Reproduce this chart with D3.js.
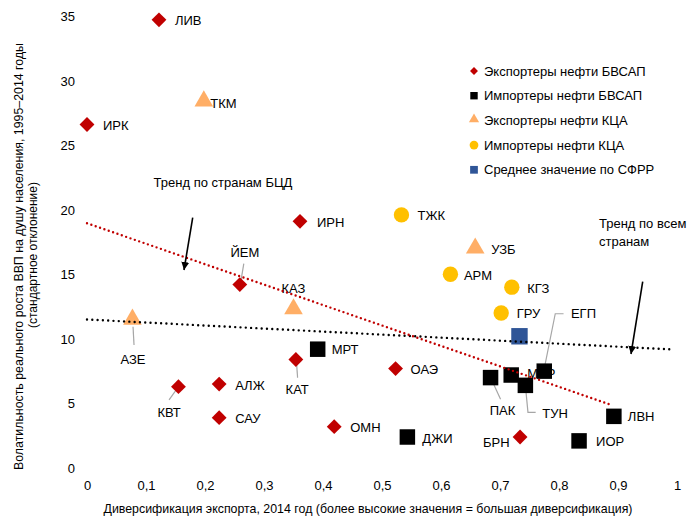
<!DOCTYPE html>
<html><head><meta charset="utf-8">
<script src="https://cdn.jsdelivr.net/npm/d3@7"></script>
<style>
body{margin:0;background:#fff}
text{font-family:"Liberation Sans Narrow","Arial Narrow","Liberation Sans",Arial,sans-serif;fill:#000}
</style>
</head><body><svg id="c" width="697" height="523"></svg>
<script>
// ---------- DATA ----------
const seriesNames = ["Экспортеры нефти БВСАП","Импортеры нефти БВСАП","Экспортеры нефти КЦА","Импортеры нефти КЦА","Среднее значение по СФРР"];
const menapExporters = [
  {name:"ЛИВ",x:0.122,y:34.7},{name:"ИРК",x:0.0,y:26.6},{name:"ИРН",x:0.361,y:19.1},
  {name:"ЙЕМ",x:0.259,y:14.2},{name:"КАТ",x:0.354,y:8.4},{name:"КВТ",x:0.155,y:6.3},
  {name:"АЛЖ",x:0.224,y:6.5},{name:"САУ",x:0.224,y:3.9},{name:"ОМН",x:0.419,y:3.2},
  {name:"ОАЭ",x:0.523,y:7.7},{name:"БРН",x:0.734,y:2.4}
];
const menapImporters = [
  {name:"МРТ",x:0.391,y:9.2},{name:"ДЖИ",x:0.543,y:2.4},{name:"ПАК",x:0.684,y:7.0},
  {name:"МАР",x:0.719,y:7.2},{name:"ТУН",x:0.743,y:6.4},{name:"ЕГП",x:0.775,y:7.5},
  {name:"ЛВН",x:0.893,y:4.0},{name:"ИОР",x:0.834,y:2.1}
];
const ccaExporters = [
  {name:"ТКМ",x:0.198,y:28.3},{name:"КАЗ",x:0.350,y:12.2},{name:"АЗЕ",x:0.077,y:11.4},{name:"УЗБ",x:0.658,y:16.9}
];
const ccaImporters = [
  {name:"ТЖК",x:0.533,y:19.6},{name:"АРМ",x:0.616,y:15.0},{name:"КГЗ",x:0.720,y:14.0},{name:"ГРУ",x:0.702,y:12.0}
];
const emAverage = [{name:"",x:0.733,y:10.2}];
const trendOil = {x:[0,0.889], y:[18.95,4.88]};      // trend for oil countries (БЦД)
const trendAll = {x:[0,0.987], y:[11.5,9.19]};       // trend for all countries
const xTicks = [0,0.1,0.2,0.3,0.4,0.5,0.6,0.7,0.8,0.9,1];
const yTicks = [0,5,10,15,20,25,30,35];
const xTitle = "Диверсификация экспорта, 2014 год (более высокие значения = большая диверсификация)";
const yTitle1 = "Волатильность реального роста ВВП на душу  населения, 1995–2014 годы";
const yTitle2 = "(стандартное отклонение)";
const noteOil = "Тренд по странам БЦД";
const noteAll = ["Тренд по всем","странам"];

// ---------- LAYOUT / STYLE ----------
const colors = ["#C00000","#000000","#FFAE66","#FFC000","#2F5597"];
const shapes = [d3.symbolDiamond2 || d3.symbolDiamond, d3.symbolSquare, d3.symbolTriangle, d3.symbolCircle, d3.symbolSquare];
const labelLayout = {
  "ЛИВ":{dx:16,dy:1},"ИРК":{dx:16,dy:1},"ИРН":{dx:17,dy:1},"АЛЖ":{dx:16,dy:1},"САУ":{dx:16,dy:1},
  "ОМН":{dx:16,dy:1},"ОАЭ":{dx:15,dy:1},"МРТ":{dx:14,dy:0},"ДЖИ":{dx:15,dy:1},"ЛВН":{dx:14,dy:0.5},
  "ИОР":{dx:17,dy:1},"ТКМ":{dx:6.5,dy:0.5},"УЗБ":{dx:16,dy:0},"ТЖК":{dx:16,dy:0.7},"АРМ":{dx:13.5,dy:1.5},
  "КГЗ":{dx:15.5,dy:1.3},"ГРУ":{dx:15.5,dy:0.7},"МАР":{dx:16,dy:-1.7},
  "БРН":{dx:-10.5,dy:5.3,anchor:"end"},
  "КАЗ":{dx:0,dy:-21.7,anchor:"middle"},
  "ЙЕМ":{dx:5,dy:-31.7,anchor:"middle",leader:[[4,-21],[1,-3]]},
  "АЗЕ":{dx:0.6,dy:38.6,anchor:"middle",leader:[[0.6,6],[1.6,24.3]]},
  "КАТ":{dx:1.3,dy:30,anchor:"middle",leader:[[0.7,2.7],[1.7,18.3]]},
  "КВТ":{dx:-9.4,dy:26,anchor:"middle",leader:[[-0.4,0.6],[-9.4,13.3]]},
  "ПАК":{dx:12,dy:33,anchor:"middle",leader:[[0,0],[10,21.6]]},
  "ТУН":{dx:17,dy:28.3,leader:[[0,0],[2.6,27],[10.3,27]]},
  "ЕГП":{dx:26.7,dy:-57.4,leader:[[-0.7,1],[11,-57.4],[19.3,-57.4]]}
};

const svg = d3.select("#c");
const x = d3.scaleLinear().domain([0,1]).range([87,677]);
const y = d3.scaleLinear().domain([0,35]).range([468,16]);
const fs = 13;

// axes (labels only, no lines)
const yAxis = svg.append("g").attr("transform","translate(75,0)")
  .call(d3.axisLeft(y).tickValues(yTicks).tickSize(0).tickPadding(0).tickFormat(d3.format("d")));
yAxis.select(".domain").remove();
yAxis.selectAll("text").style("font-size",fs+"px").attr("font-family",null).attr("dy","0.35em");
const fmtX = d => d===0||d===1 ? String(d) : d3.format(".1f")(d).replace(".",",");
const xAxis = svg.append("g").attr("transform","translate(0,481)")
  .call(d3.axisBottom(x).tickValues(xTicks).tickSize(0).tickPadding(0).tickFormat(fmtX));
xAxis.select(".domain").remove();
xAxis.selectAll("text").style("font-size",fs+"px").attr("font-family",null);

svg.append("text").attr("x",368).attr("y",513).attr("text-anchor","middle").style("font-size",fs+"px")
  .attr("textLength",529).attr("lengthAdjust","spacingAndGlyphs").text(xTitle);
svg.append("text").attr("transform","translate(23,256.5) rotate(-90)").attr("text-anchor","middle").style("font-size",fs+"px")
  .attr("textLength",427).attr("lengthAdjust","spacingAndGlyphs").text(yTitle1);
svg.append("text").attr("transform","translate(36.5,255) rotate(-90)").attr("text-anchor","middle").style("font-size",fs+"px")
  .attr("textLength",146).attr("lengthAdjust","spacingAndGlyphs").text(yTitle2);

const allSeries = [menapExporters, menapImporters, ccaExporters, ccaImporters, emAverage];
const sizes = [140, 240, 150, 185, 270];

// leaders + labels
const lab = svg.append("g");
allSeries.forEach(s => s.forEach(d => {
  if(!d.name) return;
  const L = labelLayout[d.name] || {dx:16,dy:1};
  const px = x(d.x), py = y(d.y);
  if(L.leader){
    lab.append("polyline").attr("points", L.leader.map(p=>[px+p[0],py+p[1]].join(",")).join(" "))
      .attr("fill","none").attr("stroke","#A6A6A6").attr("stroke-width",1.2);
  }
  lab.append("text").attr("x",px+L.dx).attr("y",py+L.dy).attr("dy","0.35em")
    .attr("text-anchor",L.anchor||"start").style("font-size",fs+"px").text(d.name);
}));

// markers
const mk = svg.append("g");
allSeries.forEach((s,i) => {
  mk.selectAll(null).data(s).enter().append("path")
    .attr("d", d3.symbol().type(shapes[i]).size(sizes[i]))
    .attr("transform", d => `translate(${x(d.x)},${y(d.y) - (i===2 ? 1.5 : 0)})`)
    .attr("fill", colors[i]);
});

// trend lines
const line = d3.line().x(d=>x(d[0])).y(d=>y(d[1]));
svg.append("path").attr("d", line(d3.zip(trendAll.x, trendAll.y)))
  .attr("stroke","#000").attr("stroke-width",2.4).attr("stroke-linecap","round")
  .attr("stroke-dasharray","0 5.3").attr("fill","none");
svg.append("path").attr("d", line(d3.zip(trendOil.x, trendOil.y)))
  .attr("stroke","#C00000").attr("stroke-width",2.4).attr("stroke-linecap","round")
  .attr("stroke-dasharray","0 4.6").attr("fill","none");

// arrows
svg.append("defs").append("marker").attr("id","ah").attr("viewBox","0 0 10 10")
  .attr("refX",10).attr("refY",5).attr("markerWidth",5).attr("markerHeight",5)
  .attr("markerUnits","strokeWidth").attr("orient","auto")
  .append("path").attr("d","M0,0 L10,5 L0,10 Z").attr("fill","#000");
svg.append("line").attr("x1",192.7).attr("y1",217.7).attr("x2",184).attr("y2",270)
  .attr("stroke","#000").attr("stroke-width",1.6).attr("marker-end","url(#ah)");
svg.append("line").attr("x1",642.7).attr("y1",281.7).attr("x2",631).attr("y2",354)
  .attr("stroke","#000").attr("stroke-width",1.6).attr("marker-end","url(#ah)");

svg.append("text").attr("x",223).attr("y",182).attr("dy","0.35em").attr("text-anchor","middle").style("font-size",fs+"px").text(noteOil);
noteAll.forEach((t,i)=>svg.append("text").attr("x",599).attr("y",223+i*18.5).attr("dy","0.35em").style("font-size",fs+"px").text(t));

// legend
const legSizes = [40, 55, 45, 60, 60];
const lg = svg.append("g");
seriesNames.forEach((n,i)=>{
  const ly = 71 + i*24.7;
  lg.append("path").attr("d", d3.symbol().type(shapes[i]).size(legSizes[i])).attr("transform",`translate(474,${ly - (i===2?1:0)})`).attr("fill",colors[i]);
  lg.append("text").attr("x",484).attr("y",ly).attr("dy","0.35em").style("font-size",fs+"px").text(n);
});
</script></body></html>
